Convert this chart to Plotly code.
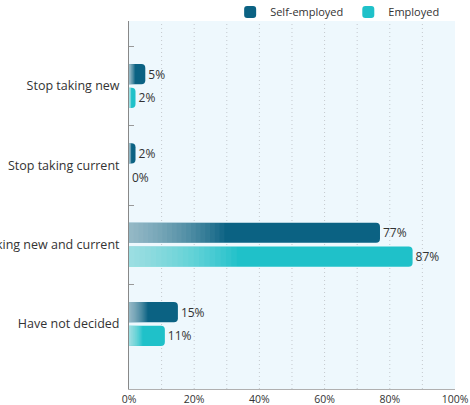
import plotly.graph_objects as go

categories = ["Stop taking new", "Stop taking current", "Stop taking new and current", "Have not decided"]
self_employed = [5, 2, 77, 15]
employed = [2, 0, 87, 11]
x_ticks = [0, 20, 40, 60, 80, 100]
x_ticklabels = ["0%", "20%", "40%", "60%", "80%", "100%"]

DARK = "#0b6283"
TEAL = "#1fc1c9"
FONT = "Open Sans, Lato, sans-serif"

fig = go.Figure()
fig.add_trace(go.Bar(
    y=categories, x=self_employed, orientation="h", name="Self-employed",
    marker=dict(color=DARK, line=dict(width=0)), offsetgroup="a",
    text=[f"{v}%" for v in self_employed], textposition="outside",
    textfont=dict(size=12, color="#333333", family=FONT), cliponaxis=False,
))
fig.add_trace(go.Bar(
    y=categories, x=employed, orientation="h", name="Employed",
    marker=dict(color=TEAL, line=dict(width=0)), offsetgroup="b",
    text=[f"{v}%" for v in employed], textposition="outside",
    textfont=dict(size=12, color="#333333", family=FONT), cliponaxis=False,
))

# light gradient at the left part of each bar (overlaid white layers)
steps = 20
for grp, vals in (("a", self_employed), ("b", employed)):
    for k in range(1, steps + 1):
        frac = 0.38 * k / steps
        fig.add_trace(go.Bar(
            y=categories, x=[v * frac for v in vals], orientation="h",
            marker=dict(color="white", opacity=0.042, cornerradius=0, line=dict(width=0)),
            offsetgroup=grp, showlegend=False, hoverinfo="skip",
        ))

fig.update_layout(
    width=470, height=405,
    margin=dict(l=129, r=15, t=21, b=16, autoexpand=False),
    barmode="group", bargap=0.4, bargroupgap=0.15, barcornerradius=4,
    paper_bgcolor="white", plot_bgcolor="#eef8fd",
    font=dict(family=FONT, size=12, color="#333333"),
    legend=dict(orientation="h", x=0.945, xanchor="right", xref="container",
                y=1 - 12 / 405, yanchor="middle", yref="container",
                font=dict(size=11, color="#333333"), traceorder="normal",
                bgcolor="rgba(0,0,0,0)", itemwidth=30, tracegroupgap=0),
    xaxis=dict(range=[0, 100.01], tickvals=x_ticks, ticktext=x_ticklabels,
               showgrid=False, zeroline=False, showline=True, linecolor="#b0b0b0",
               linewidth=1, tickfont=dict(size=10.5, color="#333333"), ticks="",
               ticklabeloverflow="allow", fixedrange=True),
    yaxis=dict(range=[3.82, -0.82], showline=True, linecolor="#888888", linewidth=1,
               ticks="inside", tickson="boundaries", ticklen=5, tickcolor="#999999",
               tickfont=dict(size=12.5, color="#333333"), automargin=False,
               ticklabelstandoff=6, showgrid=False, zeroline=False),
)

# dotted vertical gridlines every 10%
for g in range(10, 100, 10):
    fig.add_vline(x=g, line=dict(color="#c4c9ce", width=1, dash="1px,3px"), layer="below")

fig.write_html("out.html")
